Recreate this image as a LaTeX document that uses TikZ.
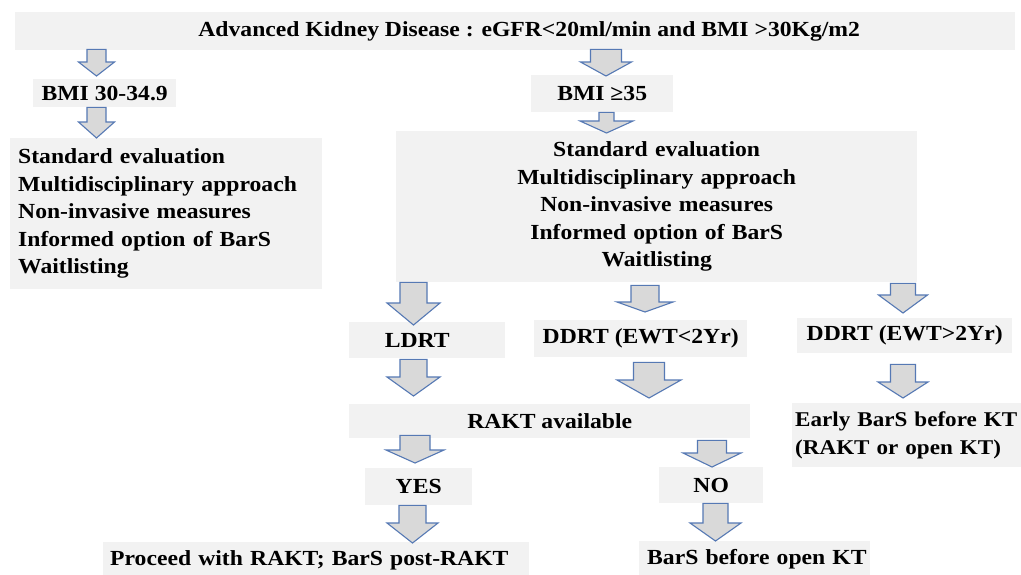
\documentclass[tikz,border=0pt]{standalone}
\usepackage{fontspec}
\setmainfont{Liberation Serif}[FakeStretch=1.1]
\usepackage{tikz}
\usetikzlibrary{calc,positioning}

\definecolor{boxgray}{RGB}{242,242,242}
\definecolor{arrowgray}{RGB}{217,217,217}
\definecolor{arrowblue}{RGB}{86,121,180}

\tikzset{
  box/.style={fill=boxgray, inner sep=0pt, anchor=north west, font=\bfseries\fontsize{21.5}{27.5}\selectfont},
  barrow/.style={fill=arrowgray, draw=arrowblue, line width=1.1pt, line join=miter}
}

% block arrow: x, from, top gap, to, tip gap, shaft half, head half, head length
\newcommand{\blockarrow}[8]{%
  \draw[barrow] let \p1=(#2.south), \p2=(#4.north) in
    (#1pt-#6pt,\y1-#3pt) -- (#1pt+#6pt,\y1-#3pt) -- (#1pt+#6pt,\y2+#5pt+#8pt)
    -- (#1pt+#7pt,\y2+#5pt+#8pt) -- (#1pt,\y2+#5pt) -- (#1pt-#7pt,\y2+#5pt+#8pt)
    -- (#1pt-#6pt,\y2+#5pt+#8pt) -- cycle;
}

\begin{document}
\begin{tikzpicture}[x=1pt, y=-1pt]
  \clip (0,0) rectangle (1021,574);
  \fill[white] (0,0) rectangle (1021,574);

  % boxes
  \node[box, minimum width=1000pt, minimum height=38pt] (top) at (15,12)
    {\hspace*{28pt}Advanced Kidney Disease : eGFR<20ml/min and BMI >30Kg/m2};
  \node[box, minimum width=143pt, minimum height=28pt] (bmilow) at (33,79) {BMI 30-34.9};
  \node[box, minimum width=142pt, minimum height=37pt] (bmihigh) at (531,75) {BMI ≥35};
  \node[box, text width=296pt, inner xsep=8pt, minimum height=151pt, align=left] (evalA) at (10,138)
    {Standard evaluation\\Multidisciplinary approach\\Non-invasive measures\\Informed option of BarS\\Waitlisting};
  \node[box, text width=521pt, minimum height=151pt, align=center] (evalB) at (396,131)
    {Standard evaluation\\Multidisciplinary approach\\Non-invasive measures\\Informed option of BarS\\Waitlisting};
  \node[box, minimum width=156pt, minimum height=36pt] (ldrt) at (349,322) {LDRT\hspace*{20pt}};
  \node[box, minimum width=213pt, minimum height=37pt] (ddrtshort) at (534,320) {DDRT (EWT<2Yr)};
  \node[box, minimum width=215pt, minimum height=35pt] (ddrtlong) at (797,318) {DDRT (EWT>2Yr)};
  \node[box, minimum width=401pt, minimum height=34pt] (rakt) at (349,404) {RAKT available};
  \node[box, text width=232pt, inner xsep=3pt, minimum height=64pt, align=left,
        font=\bfseries\fontsize{21}{27.5}\selectfont] (early) at (792,403)
    {\mbox{Early BarS before KT}\\\mbox{(RAKT or open KT)}};
  \node[box, minimum width=107pt, minimum height=37pt] (yes) at (365,468) {YES};
  \node[box, minimum width=104pt, minimum height=36pt] (no) at (659,467) {NO};
  \node[box, text width=412pt, inner xsep=7pt, minimum height=36pt, align=left] (proceed) at (103,542)
    {\mbox{Proceed with RAKT; BarS post-RAKT}};
  \node[box, text width=215pt, inner xsep=8pt, minimum height=36pt, align=left] (barsopen) at (639,541)
    {\mbox{BarS before open KT}};

  % block arrows
  \blockarrow{96.5}{top}{-1}{bmilow}{3}{9.5}{18}{14}
  \blockarrow{96.5}{bmilow}{0}{evalA}{0}{9.5}{18}{16}
  \blockarrow{606}{top}{-1}{bmihigh}{-1}{15.5}{25.5}{14}
  \blockarrow{606.5}{bmihigh}{0}{evalB}{-2}{7.5}{26.5}{12}
  \blockarrow{413.5}{evalB}{0}{ldrt}{-3}{13.5}{26.5}{22}
  \blockarrow{645}{evalB}{3}{ddrtshort}{8}{14}{28}{10}
  \blockarrow{903}{evalB}{1}{ddrtlong}{5}{12.5}{24.5}{18}
  \blockarrow{413.5}{ldrt}{1}{rakt}{8}{13.5}{26.5}{19}
  \blockarrow{649}{ddrtshort}{5}{rakt}{6}{15.5}{32}{18}
  \blockarrow{903}{ddrtlong}{11}{early}{5}{12.5}{25}{16}
  \blockarrow{415}{rakt}{-3}{yes}{5}{15}{29}{13}
  \blockarrow{412.5}{yes}{0}{proceed}{-1}{13.5}{25.5}{20}
  \blockarrow{712}{rakt}{2}{no}{0}{14.5}{29}{14}
  \blockarrow{715.5}{no}{0}{barsopen}{0}{12.5}{25.5}{18}
\end{tikzpicture}
\end{document}
